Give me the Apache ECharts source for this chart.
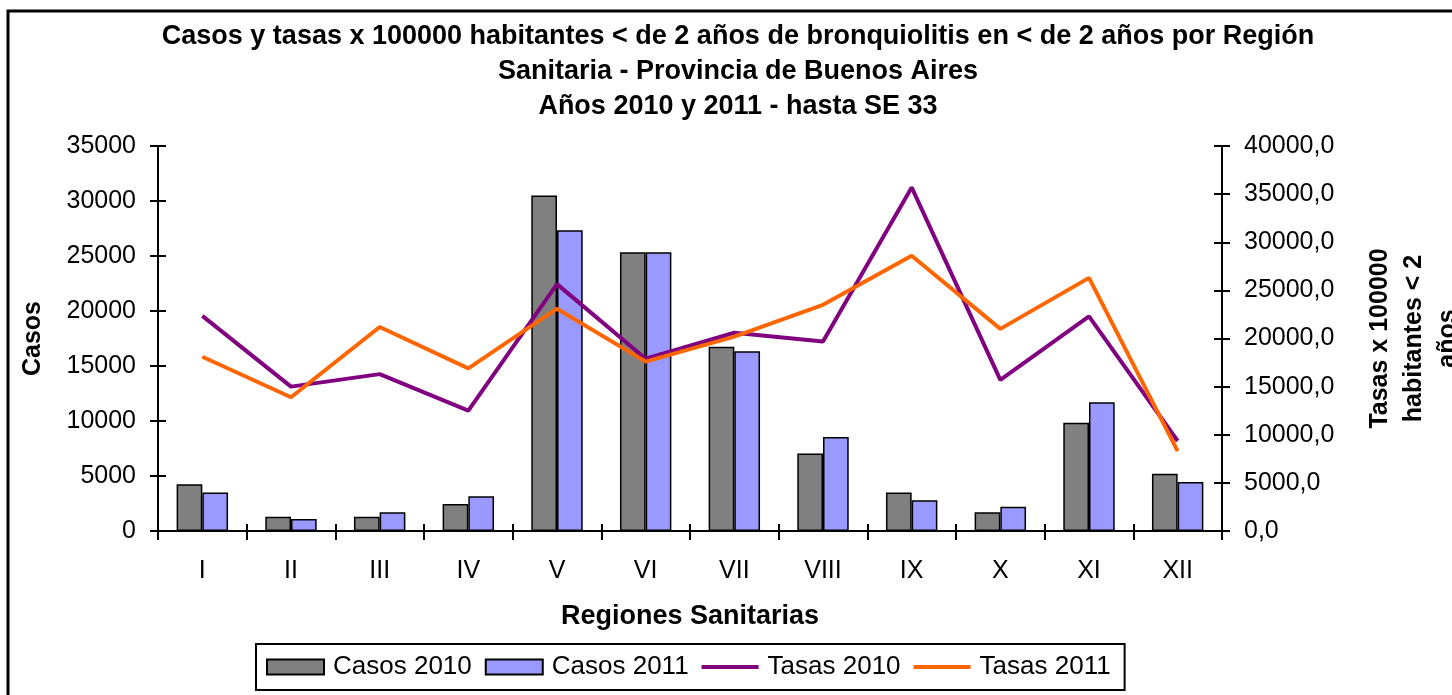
<!DOCTYPE html>
<html>
<head>
<meta charset="utf-8">
<script src="https://cdn.jsdelivr.net/npm/echarts@6/dist/echarts.min.js"></script>
<style>
html,body{margin:0;padding:0;background:#fff;}
#chart{width:1452px;height:695px;}
</style>
</head>
<body>
<div id="chart"></div>
<script>
const categories = ['I','II','III','IV','V','VI','VII','VIII','IX','X','XI','XII'];
const casos2010 = [4250, 1300, 1300, 2450, 30500, 25350, 16750, 7050, 3500, 1700, 9850, 5200];
const casos2011 = [3500, 1100, 1700, 3150, 27350, 25350, 16350, 8550, 2800, 2200, 11700, 4450];
const tasas2010 = [22350, 15000, 16300, 12500, 25650, 17900, 20600, 19700, 35700, 15700, 22300, 9350];
const tasas2011 = [18100, 13900, 21200, 16900, 23100, 17600, 20200, 23500, 28600, 21000, 26300, 8300];
const leftTicks = {min: 0, max: 35000, interval: 5000};
const rightTicks = {min: 0, max: 40000, interval: 5000};

const FONT = '"Liberation Sans", Arial, sans-serif';
const chart = echarts.init(document.getElementById('chart'), null, {renderer: 'canvas'});

const axisLine = {show: true, lineStyle: {color: '#000', width: 2}};
const tickStyle = {color: '#000', width: 2};
const lineIcon = 'path://M0,0 L57,0 L57,4 L0,4 Z';

chart.setOption({
  backgroundColor: '#fff',
  animation: false,
  textStyle: {fontFamily: FONT},
  title: {
    text: 'Casos y tasas x 100000 habitantes < de 2 años de bronquiolitis en < de 2 años por Región\nSanitaria - Provincia de Buenos Aires\nAños 2010 y 2011 - hasta SE 33',
    left: 733, top: 14, textAlign: 'center',
    textStyle: {fontFamily: FONT, fontWeight: 'bold', fontSize: 27, lineHeight: 35, color: '#000'}
  },
  graphic: [{
    type: 'rect', silent: true,
    shape: {x: 8, y: 11, width: 1520, height: 760},
    style: {fill: 'none', stroke: '#000', lineWidth: 3}
  }],
  grid: {left: 158, right: 230, top: 146, bottom: 164, containLabel: false, outerBoundsMode: 'none'},
  legend: {
    left: 256, top: 644,
    padding: [10, 14, 10, 10],
    borderColor: '#000', borderWidth: 2,
    itemWidth: 57, itemHeight: 15, itemGap: 13,
    textStyle: {fontFamily: FONT, fontSize: 26, color: '#000', padding: [0, 0, 0, 4]},
    data: [
      {name: 'Casos 2010', icon: 'rect'},
      {name: 'Casos 2011', icon: 'rect'},
      {name: 'Tasas 2010', icon: lineIcon, itemStyle: {color: '#800080', borderWidth: 0}},
      {name: 'Tasas 2011', icon: lineIcon, itemStyle: {color: '#FF6600', borderWidth: 0}}
    ]
  },
  xAxis: [{
    type: 'category', data: categories, position: 'bottom',
    name: 'Regiones Sanitarias', nameLocation: 'middle', nameGap: 72,
    nameTextStyle: {fontFamily: FONT, fontWeight: 'bold', fontSize: 27, color: '#000'},
    axisLine: axisLine,
    axisTick: {show: true, alignWithLabel: false, inside: false, length: 9, lineStyle: tickStyle},
    axisLabel: {fontFamily: FONT, fontSize: 25, color: '#000', margin: 28},
    splitLine: {show: false}
  }, {
    type: 'category', data: categories, position: 'bottom',
    axisLine: {show: false},
    axisTick: {show: true, inside: true, length: 7, lineStyle: tickStyle},
    axisLabel: {show: false}, splitLine: {show: false}
  }],
  yAxis: [{
    type: 'value', position: 'left',
    min: leftTicks.min, max: leftTicks.max, interval: leftTicks.interval,
    name: 'Casos', nameLocation: 'middle', nameGap: 112, nameRotate: 90,
    nameTextStyle: {fontFamily: FONT, fontWeight: 'bold', fontSize: 25, color: '#000'},
    axisLine: axisLine,
    axisTick: {show: true, length: 8, lineStyle: tickStyle},
    axisLabel: {fontFamily: FONT, fontSize: 25, color: '#000', margin: 22,
      formatter: v => String(v)},
    splitLine: {show: false}
  }, {
    type: 'value', position: 'right',
    min: rightTicks.min, max: rightTicks.max, interval: rightTicks.interval,
    name: 'Tasas x 100000\nhabitantes < 2\naños', nameLocation: 'middle', nameGap: 141, nameRotate: 90,
    nameTextStyle: {fontFamily: FONT, fontWeight: 'bold', fontSize: 25, color: '#000', lineHeight: 34, align: 'center'},
    axisLine: axisLine,
    axisTick: {show: true, length: 8, lineStyle: tickStyle},
    axisLabel: {fontFamily: FONT, fontSize: 25, color: '#000', margin: 22,
      formatter: v => v.toFixed(1).replace('.', ',')},
    splitLine: {show: false}
  }, {
    type: 'value', position: 'left',
    min: leftTicks.min, max: leftTicks.max, interval: leftTicks.interval,
    axisLine: {show: false},
    axisTick: {show: true, inside: true, length: 8, lineStyle: tickStyle},
    axisLabel: {show: false}, splitLine: {show: false}
  }, {
    type: 'value', position: 'right',
    min: rightTicks.min, max: rightTicks.max, interval: rightTicks.interval,
    axisLine: {show: false},
    axisTick: {show: true, inside: true, length: 8, lineStyle: tickStyle},
    axisLabel: {show: false}, splitLine: {show: false}
  }],
  series: [{
    name: 'Casos 2010', type: 'bar', data: casos2010, yAxisIndex: 0,
    barGap: '0%', barCategoryGap: '42%',
    itemStyle: {color: '#808080', borderColor: '#000', borderWidth: 1.5}
  }, {
    name: 'Casos 2011', type: 'bar', data: casos2011, yAxisIndex: 0,
    barGap: '0%', barCategoryGap: '42%',
    itemStyle: {color: '#9999FF', borderColor: '#000', borderWidth: 1.5}
  }, {
    name: 'Tasas 2010', type: 'line', data: tasas2010, yAxisIndex: 1,
    symbol: 'none', lineStyle: {color: '#800080', width: 4}, itemStyle: {color: '#800080'}
  }, {
    name: 'Tasas 2011', type: 'line', data: tasas2011, yAxisIndex: 1,
    symbol: 'none', lineStyle: {color: '#FF6600', width: 4}, itemStyle: {color: '#FF6600'}
  }]
});
</script>
</body>
</html>
